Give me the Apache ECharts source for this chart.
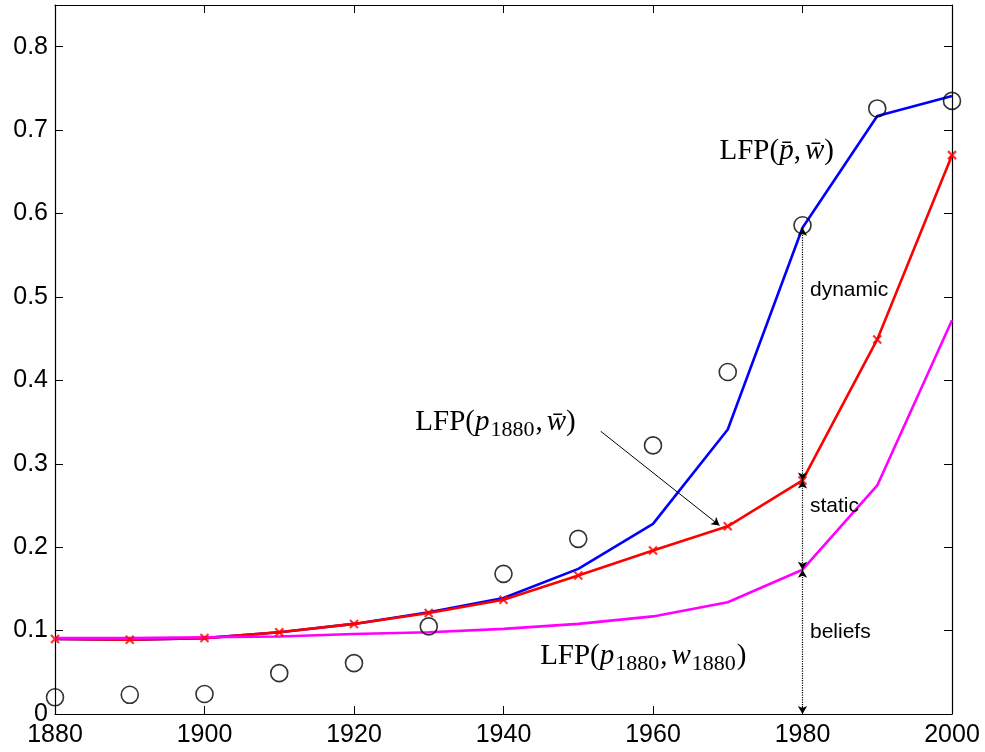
<!DOCTYPE html>
<html>
<head>
<meta charset="utf-8">
<script src="https://cdn.jsdelivr.net/npm/echarts@6/dist/echarts.min.js"></script>
<style>html,body{margin:0;padding:0;background:#fff;}#c{width:985px;height:752px;}</style>
</head>
<body>
<div id="c"></div>
<script>
// ---- data ----
const years = [1880, 1890, 1900, 1910, 1920, 1930, 1940, 1950, 1960, 1970, 1980, 1990, 2000];
const observed = [0.020, 0.023, 0.024, 0.049, 0.061, 0.105, 0.168, 0.210, 0.322, 0.410, 0.586, 0.726, 0.735];
const lfpDynamic = [0.090, 0.089, 0.091, 0.098, 0.108, 0.122, 0.139, 0.174, 0.228, 0.341, 0.583, 0.717, 0.741];
const lfpStatic = [0.090, 0.089, 0.091, 0.098, 0.108, 0.121, 0.137, 0.166, 0.196, 0.225, 0.280, 0.449, 0.670];
const lfpBeliefs = [0.091, 0.091, 0.092, 0.093, 0.096, 0.098, 0.102, 0.108, 0.117, 0.134, 0.173, 0.274, 0.472];
const xTicks = [1880, 1900, 1920, 1940, 1960, 1980, 2000];
const yTicks = [0, 0.1, 0.2, 0.3, 0.4, 0.5, 0.6, 0.7, 0.8];
const decompYear = 1980;

const pair = (ys) => years.map((y, i) => [y, ys[i]]);
const iDec = years.indexOf(decompYear);

const serif = 'Liberation Serif';
const sans = 'Liberation Sans';
const rich = {
  m: {fontFamily: serif, fontSize: 29, color: '#000'},
  i: {fontFamily: serif, fontSize: 29, fontStyle: 'italic', color: '#000'},
  c: {fontFamily: serif, fontSize: 29, color: '#000', padding: [0, 4, 0, 0]},
  s: {fontFamily: serif, fontSize: 22, color: '#000', padding: [15, 1, 0, 1]},
  t: {fontFamily: sans, fontSize: 21, color: '#000'}
};

const annotations = [
  {value: [1968.9, 0.674], text: '{m|LFP(}{i|p\u0304}{c|,}{i|w\u0304}{m|)}'},
  {value: [1928.2, 0.3495], text: '{m|LFP(}{i|p}{s|1880}{c|,}{i|w\u0304}{m|)}'},
  {value: [1944.9, 0.0685], text: '{m|LFP(}{i|p}{s|1880}{c|,}{i|w}{s|1880}{m|)}'},
  {value: [1981.0, 0.508], text: '{t|dynamic}'},
  {value: [1981.0, 0.249], text: '{t|static}'},
  {value: [1981.0, 0.0985], text: '{t|beliefs}'}
];

const xCommon = {type: 'value', min: 1880, max: 2000, interval: 20,
  axisLine: {show: true, onZero: false, lineStyle: {color: '#000', width: 1.2}},
  axisTick: {show: true, inside: true, length: 8, lineStyle: {color: '#000'}},
  splitLine: {show: false}};
const yCommon = {type: 'value', min: 0, max: 0.85, interval: 0.1,
  axisLine: {show: true, onZero: false, lineStyle: {color: '#000', width: 1.2}},
  axisTick: {show: true, inside: true, length: 8, lineStyle: {color: '#000'}},
  splitLine: {show: false}};

const xMark = 'path://M0,0 L10,10 M10,0 L0,10';

const option = {
  animation: false,
  backgroundColor: '#fff',
  grid: {left: 55, right: 33, top: 5, bottom: 38, containLabel: false},
  xAxis: [
    Object.assign({}, xCommon, {position: 'bottom',
      axisLabel: {show: true, margin: 9, fontFamily: sans, fontSize: 25, color: '#000',
        formatter: v => xTicks.includes(v) ? String(v) : ''}}),
    Object.assign({}, xCommon, {position: 'top', axisLabel: {show: false}})
  ],
  yAxis: [
    Object.assign({}, yCommon, {position: 'left',
      axisLabel: {show: true, margin: 7, fontFamily: sans, fontSize: 25, color: '#000',
        formatter: v => { const t = yTicks.find(k => Math.abs(k - v) < 1e-6); return t === undefined ? '' : String(t); }}}),
    Object.assign({}, yCommon, {position: 'right', axisLabel: {show: false}})
  ],
  series: [
    {type: 'line', name: 'dynamic', data: pair(lfpDynamic), showSymbol: false, symbol: 'none',
      lineStyle: {color: '#0000ff', width: 2.6}, z: 2},
    {type: 'line', name: 'static', data: pair(lfpStatic), showSymbol: false, symbol: 'none',
      lineStyle: {color: '#ff0000', width: 2.6}, z: 2},
    {type: 'line', name: 'beliefs', data: pair(lfpBeliefs), showSymbol: false, symbol: 'none',
      lineStyle: {color: '#ff00ff', width: 2.6}, z: 2},
    {type: 'scatter', name: 'static markers', data: pair(lfpStatic), symbol: xMark, symbolSize: 8,
      itemStyle: {color: 'none', borderColor: '#ff0000', borderWidth: 2.2}, z: 3},
    {type: 'scatter', name: 'data', data: pair(observed), symbol: 'circle', symbolSize: 17,
      itemStyle: {color: 'rgba(0,0,0,0)', borderColor: '#000', borderWidth: 1.6}, z: 4},
    {type: 'scatter', name: 'annotations', symbolSize: 0, silent: true, z: 5,
      data: annotations.map(a => ({value: a.value, label: {formatter: a.text}})),
      label: {show: true, position: [0, 0], align: 'left', verticalAlign: 'middle', color: '#000', opacity: 1, rich: rich},
      markLine: {
        silent: true, animation: false, symbolSize: [7, 8], label: {show: false},
        data: [
          [{coord: [decompYear, lfpDynamic[iDec]], symbol: 'arrow', lineStyle: {type: 'dotted', color: '#000', width: 1.2}},
           {coord: [decompYear, lfpStatic[iDec]], symbol: 'arrow'}],
          [{coord: [decompYear, lfpStatic[iDec]], symbol: 'arrow', lineStyle: {type: 'dotted', color: '#000', width: 1.2}},
           {coord: [decompYear, lfpBeliefs[iDec]], symbol: 'arrow'}],
          [{coord: [decompYear, lfpBeliefs[iDec]], symbol: 'arrow', lineStyle: {type: 'dotted', color: '#000', width: 1.2}},
           {coord: [decompYear, 0], symbol: 'arrow'}],
          [{coord: [1953.0, 0.339], symbol: 'none', lineStyle: {type: 'solid', color: '#000', width: 1}},
           {coord: [1968.9, 0.226], symbol: 'arrow'}]
        ]
      }}
  ]
};

const chart = echarts.init(document.getElementById('c'), null, {renderer: 'canvas'});
chart.setOption(option);
</script>
</body>
</html>
